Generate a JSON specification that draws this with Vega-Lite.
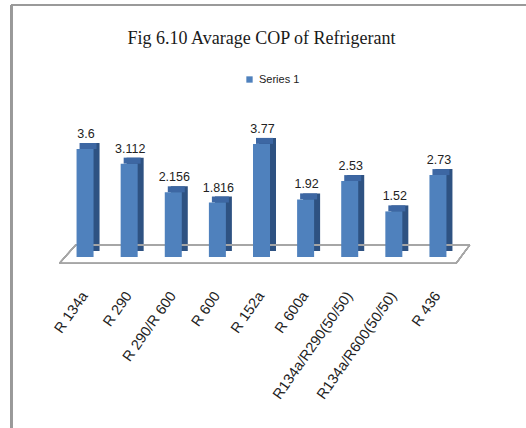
{
  "$schema": "https://vega.github.io/schema/vega-lite/v6.json",
  "autosize": {"type": "none"},
  "width": 407,
  "height": 150,
  "padding": {"left": 58, "top": 122, "right": 61, "bottom": 156},
  "background": "white",
  "title": {
    "text": "Fig 6.10 Avarage COP of Refrigerant",
    "font": "Liberation Serif",
    "fontSize": 18,
    "fontWeight": "normal",
    "color": "#1a1a1a",
    "anchor": "middle",
    "frame": "group",
    "offset": -44
  },
  "data": {
    "values": [
      {"i": 0, "name": "R 134a", "cop": 3.6, "label": "3.6"},
      {"i": 1, "name": "R 290", "cop": 3.112, "label": "3.112"},
      {"i": 2, "name": "R 290/R 600", "cop": 2.156, "label": "2.156"},
      {"i": 3, "name": "R 600", "cop": 1.816, "label": "1.816"},
      {"i": 4, "name": "R 152a", "cop": 3.77, "label": "3.77"},
      {"i": 5, "name": "R 600a", "cop": 1.92, "label": "1.92"},
      {"i": 6, "name": "R134a/R290(50/50)", "cop": 2.53, "label": "2.53"},
      {"i": 7, "name": "R134a/R600(50/50)", "cop": 1.52, "label": "1.52"},
      {"i": 8, "name": "R 436", "cop": 2.73, "label": "2.73"}
    ]
  },
  "layer": [
    {
      "mark": {"type": "bar", "size": 17, "color": "#2e5282", "xOffset": 6, "yOffset": -6, "y2Offset": -6, "clip": false},
      "encoding": {
        "x": {"field": "i", "type": "quantitative", "scale": {"domain": [-0.5, 8.5], "nice": false, "zero": false}, "axis": null},
        "y": {"field": "cop", "type": "quantitative", "scale": {"domain": [-0.5, 4.5], "nice": false, "zero": false}, "axis": null}
      }
    },
    {
      "mark": {"type": "bar", "size": 17, "color": "#3d67a3", "xOffset": 3, "yOffset": -6, "clip": false},
      "encoding": {
        "x": {"field": "i", "type": "quantitative"},
        "y": {"field": "cop", "type": "quantitative"},
        "y2": {"field": "cop"}
      }
    },
    {
      "mark": {"type": "rule", "color": "#9a9a9a", "strokeWidth": 2, "clip": false},
      "encoding": {
        "x": {"datum": -1.672, "type": "quantitative"},
        "x2": {"datum": 10.5},
        "y": {"datum": 8.4, "type": "quantitative"}
      }
    },
    {
      "mark": {"type": "rule", "color": "#9a9a9a", "strokeWidth": 2, "clip": false},
      "encoding": {
        "x": {"datum": -1.672, "type": "quantitative"},
        "y": {"datum": 8.4, "type": "quantitative"},
        "y2": {"datum": -6}
      }
    },
    {
      "mark": {"type": "rule", "color": "#a6a6a6", "strokeWidth": 1.2, "clip": false},
      "encoding": {"x": {"datum": -0.582, "type": "quantitative"}, "x2": {"datum": 8.412}, "y": {"datum": -0.21, "type": "quantitative"}, "y2": {"datum": -0.21}}
    },
    {
      "mark": {"type": "rule", "color": "#a6a6a6", "strokeWidth": 1.2, "clip": false},
      "encoding": {"x": {"datum": -0.2125, "type": "quantitative"}, "x2": {"datum": 8.722}, "y": {"datum": 0.4, "type": "quantitative"}, "y2": {"datum": 0.4}}
    },
    {
      "mark": {"type": "rule", "color": "#a6a6a6", "strokeWidth": 1.2, "clip": false},
      "encoding": {"x": {"datum": -0.582, "type": "quantitative"}, "x2": {"datum": -0.2125}, "y": {"datum": -0.21, "type": "quantitative"}, "y2": {"datum": 0.4}}
    },
    {
      "mark": {"type": "rule", "color": "#a6a6a6", "strokeWidth": 1.2, "clip": false},
      "encoding": {"x": {"datum": 8.412, "type": "quantitative"}, "x2": {"datum": 8.722}, "y": {"datum": -0.21, "type": "quantitative"}, "y2": {"datum": 0.4}}
    },
    {
      "mark": {"type": "bar", "size": 17, "clip": false},
      "encoding": {
        "x": {"field": "i", "type": "quantitative"},
        "y": {"field": "cop", "type": "quantitative"},
        "color": {
          "datum": "Series 1",
          "type": "nominal",
          "scale": {"range": ["#4f81bd"]},
          "legend": {
            "title": null,
            "orient": "none",
            "legendX": 186,
            "legendY": -48,
            "symbolType": "square",
            "symbolSize": 40,
            "labelFont": "Liberation Sans",
            "labelFontSize": 11,
            "labelColor": "#222222"
          }
        }
      }
    },
    {
      "mark": {"type": "text", "font": "Liberation Sans", "fontSize": 12.5, "baseline": "bottom", "dy": -8, "dx": 1, "color": "#222222", "clip": false},
      "encoding": {
        "x": {"field": "i", "type": "quantitative"},
        "y": {"field": "cop", "type": "quantitative"},
        "text": {"field": "label", "type": "nominal"}
      }
    },
    {
      "mark": {"type": "text", "font": "Liberation Sans", "fontSize": 14.5, "angle": 305, "align": "right", "baseline": "middle", "color": "#222222", "clip": false},
      "encoding": {
        "x": {"field": "i", "type": "quantitative"},
        "y": {"datum": -1.22, "type": "quantitative"},
        "text": {"field": "name", "type": "nominal"}
      }
    }
  ],
  "config": {"view": {"stroke": null}}
}
